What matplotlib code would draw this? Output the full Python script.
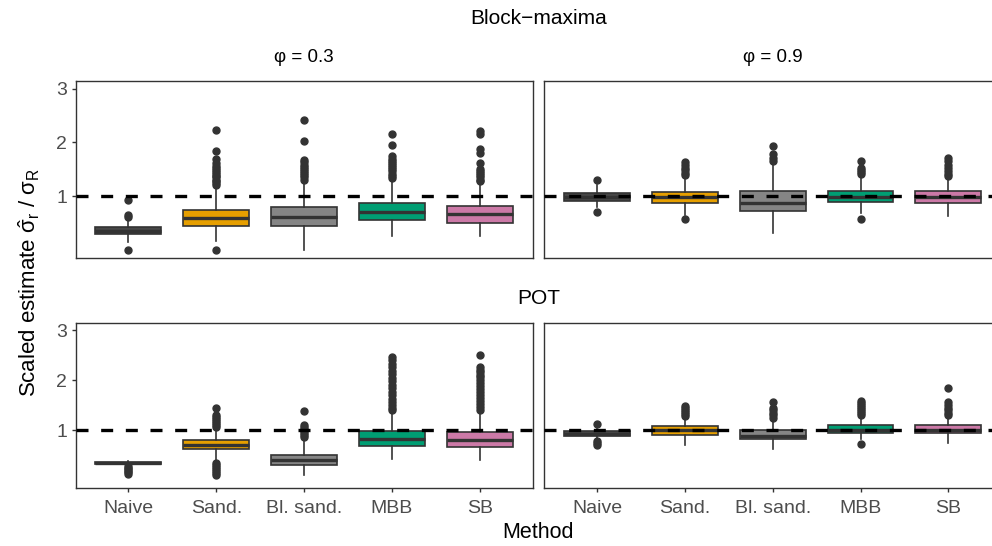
import matplotlib
matplotlib.use("Agg")
import matplotlib.pyplot as plt

plt.rcParams['font.family'] = ['Liberation Sans', 'DejaVu Sans']
plt.rcParams['mathtext.fontset'] = 'custom'
plt.rcParams['mathtext.rm'] = 'Liberation Sans'
plt.rcParams['mathtext.it'] = 'Liberation Sans'
plt.rcParams['mathtext.sf'] = 'Liberation Sans'

methods = ["Naive", "Sand.", "Bl. sand.", "MBB", "SB"]
colors = ["#474747", "#E69F00", "#858585", "#009E73", "#CC79A7"]

# Block-maxima, phi = 0.3
bm03_lo = [0.14, 0.17, 0.00, 0.26, 0.26]
bm03_q1 = [0.29, 0.44, 0.45, 0.56, 0.51]
bm03_med = [0.35, 0.59, 0.62, 0.71, 0.67]
bm03_q3 = [0.42, 0.75, 0.79, 0.87, 0.82]
bm03_hi = [0.53, 1.17, 1.24, 1.30, 1.25]
bm03_out = [
    [0.93, 0.65, 0.62, 0.0],
    [2.24, 1.85, 1.70, 1.62, 1.57, 1.52, 1.48, 1.45, 1.42, 1.38, 1.35, 1.31, 1.28, 1.25, 1.21, 0.0],
    [2.41, 2.02, 1.67, 1.63, 1.59, 1.55, 1.51, 1.47, 1.43, 1.39, 1.35, 1.31],
    [2.15, 1.96, 1.74, 1.70, 1.66, 1.62, 1.58, 1.54, 1.50, 1.46, 1.42, 1.38, 1.34],
    [2.22, 2.16, 1.87, 1.80, 1.62, 1.51, 1.47, 1.43, 1.39, 1.35, 1.31, 1.28],
]

# Block-maxima, phi = 0.9
bm09_lo = [0.80, 0.65, 0.31, 0.68, 0.63]
bm09_q1 = [0.91, 0.87, 0.73, 0.90, 0.88]
bm09_med = [0.99, 0.99, 0.88, 0.99, 0.99]
bm09_q3 = [1.06, 1.07, 1.09, 1.10, 1.09]
bm09_hi = [1.20, 1.36, 1.60, 1.36, 1.31]
bm09_out = [
    [1.31, 0.70],
    [1.64, 1.58, 1.53, 1.48, 1.44, 1.40, 0.57],
    [1.93, 1.78, 1.72, 1.65],
    [1.65, 1.53, 1.49, 1.45, 1.41, 0.57],
    [1.71, 1.65, 1.59, 1.52, 1.47, 1.42, 1.37],
]

# POT, phi = 0.3
pot03_lo = [0.30, 0.37, 0.10, 0.42, 0.41]
pot03_q1 = [0.32, 0.62, 0.30, 0.68, 0.67]
pot03_med = [0.34, 0.70, 0.40, 0.83, 0.80]
pot03_q3 = [0.36, 0.81, 0.51, 0.99, 0.97]
pot03_hi = [0.38, 1.00, 0.82, 1.37, 1.37]
pot03_out = [
    [0.28, 0.25, 0.22, 0.19, 0.16, 0.13],
    [1.44, 1.30, 1.26, 1.22, 1.18, 1.14, 1.10, 1.06, 0.34, 0.30, 0.26, 0.22, 0.18, 0.14, 0.10],
    [1.38, 1.10, 1.06, 1.02, 0.98, 0.94, 0.90, 0.86],
    [2.47, 2.40, 2.33, 2.26, 2.19, 2.12, 2.05, 1.98, 1.91, 1.84, 1.77, 1.70, 1.63, 1.56, 1.50, 1.44, 1.40],
    [2.50, 2.26, 2.21, 2.16, 2.11, 2.06, 2.00, 1.94, 1.88, 1.82, 1.76, 1.70, 1.64, 1.58, 1.52, 1.46, 1.41],
]

# POT, phi = 0.9
pot09_lo = [0.82, 0.71, 0.63, 0.82, 0.75]
pot09_q1 = [0.89, 0.91, 0.82, 0.94, 0.94]
pot09_med = [0.93, 1.00, 0.89, 1.00, 1.00]
pot09_q3 = [0.98, 1.08, 1.00, 1.10, 1.10]
pot09_hi = [1.03, 1.27, 1.20, 1.27, 1.27]
pot09_out = [
    [1.12, 0.78, 0.74, 0.71],
    [1.48, 1.44, 1.40, 1.36, 1.32, 1.28],
    [1.57, 1.45, 1.40, 1.35, 1.30, 1.25],
    [1.58, 1.54, 1.50, 1.46, 1.42, 1.38, 1.34, 1.30, 0.73],
    [1.85, 1.56, 1.50, 1.45, 1.40, 1.35, 1.31],
]


def make_stats(lo, q1, med, q3, hi, out):
    return [dict(whislo=lo[i], q1=q1[i], med=med[i], q3=q3[i], whishi=hi[i], fliers=out[i])
            for i in range(len(methods))]


W, H = 992, 546
fig = plt.figure(figsize=(W / 100, H / 100), dpi=100)

col_left = [75.7, 544.3]
col_w = 456.8
rows = [(80.7, 258.0), (322.7, 487.5)]

panels = [
    [make_stats(bm03_lo, bm03_q1, bm03_med, bm03_q3, bm03_hi, bm03_out),
     make_stats(bm09_lo, bm09_q1, bm09_med, bm09_q3, bm09_hi, bm09_out)],
    [make_stats(pot03_lo, pot03_q1, pot03_med, pot03_q3, pot03_hi, pot03_out),
     make_stats(pot09_lo, pot09_q1, pot09_med, pot09_q3, pot09_hi, pot09_out)],
]

line_c = "#333333"
for r, (top, bot) in enumerate(rows):
    for c in range(2):
        ax = fig.add_axes([col_left[c] / W, (H - bot) / H, col_w / W, (bot - top) / H])
        bp = ax.bxp(panels[r][c], positions=range(1, 6), widths=0.75, patch_artist=True,
                    showcaps=False,
                    boxprops=dict(edgecolor=line_c, linewidth=1.2),
                    whiskerprops=dict(color=line_c, linewidth=1.2),
                    medianprops=dict(color=line_c, linewidth=2.4),
                    flierprops=dict(marker='o', markerfacecolor=line_c, markeredgecolor=line_c,
                                    markersize=5, linestyle='none'))
        for patch, col in zip(bp['boxes'], colors):
            patch.set_facecolor(col)
        ax.axhline(1, color='black', linewidth=2.4, dashes=(3.6, 3.8), zorder=5)
        ax.set_xlim(0.4, 5.6)
        ax.set_ylim(-0.15, 3.15)
        ax.set_yticks([1, 2, 3])
        ax.set_xticks(range(1, 6))
        for s in ax.spines.values():
            s.set_color(line_c)
            s.set_linewidth(1.0)
        ax.tick_params(colors=line_c, labelcolor="#4D4D4D", labelsize=14, length=3.2, width=1.0, pad=3)
        if r == 0:
            ax.tick_params(axis='x', bottom=False, labelbottom=False)
        else:
            ax.set_xticklabels(methods)
            ax.tick_params(axis='x', pad=6)
        if c == 1:
            ax.tick_params(axis='y', left=False, labelleft=False)

cx = (75.7 + 544.3 + col_w) / 2 / W
fig.text(cx, 1 - 18 / H, "Block\u2212maxima", ha='center', va='center', fontsize=15)
fig.text((75.7 + col_w / 2) / W, 1 - 58 / H, "\u03c6 = 0.3", ha='center', va='center', fontsize=13.5)
fig.text((544.3 + col_w / 2) / W, 1 - 58 / H, "\u03c6 = 0.9", ha='center', va='center', fontsize=13.5)
fig.text(cx, 1 - 298 / H, "POT", ha='center', va='center', fontsize=15)
fig.text(cx, 1 - 533 / H, "Method", ha='center', va='center', fontsize=15.5)
fig.text(29 / W, 1 - 283 / H, r"Scaled estimate $\hat{\sigma}_r$ / $\sigma_R$", ha='center', va='center',
         rotation=90, fontsize=16)

fig.savefig("out.png", dpi=100)
